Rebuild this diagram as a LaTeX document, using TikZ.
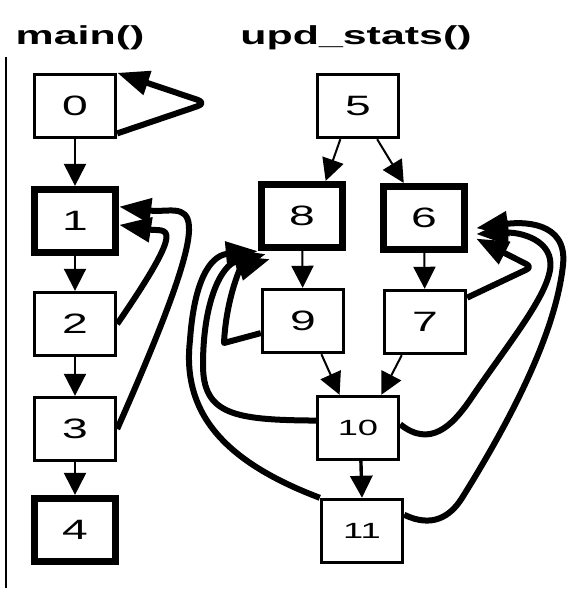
\documentclass[tikz,border=0pt]{standalone}
\usepackage{fontspec}
\newfontfamily\labelfont[FakeStretch=1.65]{Liberation Sans}
\usetikzlibrary{arrows.meta}

\begin{document}
\begin{tikzpicture}[x=0.5pt, y=0.5pt,
	blk/.style={draw, line width=1.7pt, minimum width=40.5pt, minimum height=31.5pt, inner sep=0pt, font=\labelfont\fontsize{14pt}{14pt}\selectfont},
	hot/.style={blk, line width=3.6pt},
	twodig/.style={font=\labelfont\fontsize{11pt}{11pt}\selectfont},
	title/.style={anchor=base, font=\labelfont\bfseries\fontsize{13pt}{13pt}\selectfont},
	flow/.style={-{Triangle[length=11pt,width=11pt]}, line width=1pt},
	back/.style={-{Triangle[length=16pt,width=12pt]}, line width=3pt, line join=round}]
	\useasboundingbox (0,0) rectangle (577,-606);

	\node[title] (mainT) at (80,-44) {main()};
	\node[title] (updT) at (356,-44) {upd\_stats()};
	\draw[line width=1.2pt] (6,-57) -- (6,-588);

	\node[blk] (n0) at (75,-106) {0};
	\node[hot] (n1) at (75,-221) {1};
	\node[blk] (n2) at (75,-324) {2};
	\node[blk] (n3) at (75,-429) {3};
	\node[hot] (n4) at (75,-530) {4};
	\node[blk] (n5) at (358,-106) {5};
	\node[hot] (n8) at (302,-216) {8};
	\node[hot] (n6) at (424,-218) {6};
	\node[blk] (n9) at (303,-321) {9};
	\node[blk] (n7) at (425,-322) {7};
	\node[blk, twodig] (n10) at (358,-428) {10};
	\node[blk, twodig] (n11) at (362,-531) {11};

	\draw[flow] (n0) to (n1);
	\draw[flow] (n1) to (n2);
	\draw[flow] (n2) to (n3);
	\draw[flow] (n3) to (n4);
	\draw[flow] (n5.-118) to (n8.56);
	\draw[flow] (n5.-60) to (n6.120);
	\draw[flow] (n8) to (n9);
	\draw[flow] (n6) to (n7);
	\draw[flow] (n9.-61) to (n10.119);
	\draw[flow] (n7.-125) to (n10.55);
	\draw[flow, line width=1.7pt] (n10.-85) to (n11.north);

	\draw[back, rounded corners=5pt] (n0.-33) -- (207,-103) -- (n0.north east);
	\draw[back] (n2.east) .. controls (190,-218) and (165,-232) .. (n1.-5);
	\draw[back] (n3.east) .. controls (230,-174) and (185,-215) .. (n1.18);

	\draw[back] (n9.196) -- (224,-343) .. controls (226,-300) and (240,-268) .. ([shift={(6pt,-4pt)}]n8.south west);
	\draw[back] (n10.170) .. controls (235,-420) and (203,-415) .. (203,-365) .. controls (203,-300) and (222,-265) .. ([shift={(4pt,-1.5pt)}]n8.south west);
	\draw[back] (n11.north west) .. controls (220,-460) and (182,-410) .. (190,-340) .. controls (195,-270) and (215,-255) .. (n8.south west);

	\draw[back, rounded corners=3pt] (n7.30) -- (532,-267) -- ([xshift=4pt]n6.-25);
	\draw[back] (n10.5) .. controls (430,-448) and (452,-426) .. (470,-400) .. controls (505,-348) and (545,-300) .. (550,-270) .. controls (555,-240) and (520,-232) .. ([xshift=4pt]n6.-20);
	\draw[back] (n11.21) .. controls (432,-528) and (450,-517) .. (462,-498) .. controls (515,-413) and (556,-330) .. (563,-265) .. controls (568,-220) and (520,-222) .. ([xshift=4pt]n6.-13);
\end{tikzpicture}
\end{document}
